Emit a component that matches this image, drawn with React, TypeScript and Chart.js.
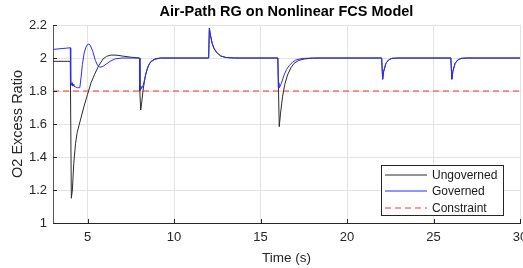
import React, { useEffect, useRef } from "react";
import { Chart, registerables } from "chart.js";

Chart.register(...registerables);

const chartTitle = "Air-Path RG on Nonlinear FCS Model";
const xTitle = "Time (s)";
const yTitle = "O2 Excess Ratio";

const xTicks = [5, 10, 15, 20, 25, 30];
const yTicks = [1, 1.2, 1.4, 1.6, 1.8, 2, 2.2];
const yTickLabels = ["1", "1.2", "1.4", "1.6", "1.8", "2", "2.2"];

const seriesNames = ["Ungoverned", "Governed", "Constraint"];

const ungovTime = [
  3, 4.0, 4.06, 4.12, 4.2, 4.3, 4.4, 4.6, 4.8, 5.0, 5.2, 5.4, 5.65, 5.9, 6.1, 6.35, 6.7, 7.0, 7.5,
  8.0, 8.02, 8.07, 8.12, 8.2, 8.35, 8.5, 8.65, 8.9, 9.2,
  12.0, 12.04, 12.1, 12.2, 12.3, 12.45, 12.7, 13.0, 13.5,
  16.0, 16.08, 16.15, 16.27, 16.4, 16.56, 16.75, 16.94, 17.2, 17.52, 18.0, 18.5,
  22.0, 22.06, 22.12, 22.25, 22.4, 22.6, 23.0,
  26.0, 26.06, 26.12, 26.25, 26.4, 26.6, 27.0, 30,
];
const ungovRatio = [
  1.98, 1.98, 1.15, 1.2, 1.36, 1.48, 1.55, 1.63, 1.71, 1.78, 1.85, 1.9, 1.955, 1.995, 2.01, 2.018, 2.017, 2.012, 2.005,
  2.0, 1.8, 1.685, 1.72, 1.8, 1.9, 1.95, 1.978, 1.995, 2.0,
  2.0, 2.18, 2.14, 2.09, 2.06, 2.035, 2.012, 2.003, 2.0,
  2.0, 1.584, 1.66, 1.765, 1.84, 1.897, 1.94, 1.968, 1.985, 1.994, 1.999, 2.0,
  2.0, 1.871, 1.92, 1.968, 1.988, 1.998, 2.0,
  2.0, 1.871, 1.92, 1.968, 1.988, 1.998, 2.0, 2.0,
];

const govTime = [
  3, 4.0, 4.01, 4.04, 4.07, 4.1, 4.13, 4.17, 4.2, 4.3, 4.4, 4.5, 4.55, 4.62, 4.7, 4.8, 4.9, 5.0, 5.07, 5.15, 5.3, 5.45, 5.58, 5.72, 5.9, 6.1, 6.3, 6.6, 7.0,
  8.0, 8.02, 8.05, 8.08, 8.12, 8.2, 8.3, 8.45, 8.6, 8.84, 9.2,
  12.0, 12.04, 12.1, 12.2, 12.3, 12.45, 12.7, 13.0, 13.5,
  16.0, 16.03, 16.06, 16.09, 16.13, 16.2, 16.36, 16.5, 16.65, 16.85, 17.04, 17.4, 18.0,
  22.0, 22.06, 22.12, 22.25, 22.4, 22.6, 23.0,
  26.0, 26.06, 26.12, 26.25, 26.4, 26.6, 27.0, 30,
];
const govRatio = [
  2.052, 2.062, 1.85, 1.86, 1.835, 1.85, 1.83, 1.842, 1.83, 1.825, 1.82, 1.82, 1.82, 1.88, 1.96, 2.03, 2.065, 2.082, 2.085, 2.078, 2.04, 1.985, 1.955, 1.944, 1.95, 1.965, 1.98, 1.995, 2.0,
  2.0, 1.84, 1.81, 1.83, 1.815, 1.83, 1.87, 1.935, 1.97, 1.99, 2.0,
  2.0, 2.18, 2.14, 2.09, 2.06, 2.035, 2.012, 2.003, 2.0,
  2.0, 1.82, 1.85, 1.82, 1.83, 1.845, 1.897, 1.93, 1.953, 1.975, 1.988, 1.997, 2.0,
  2.0, 1.871, 1.92, 1.968, 1.988, 1.998, 2.0,
  2.0, 1.871, 1.92, 1.968, 1.988, 1.998, 2.0, 2.0,
];

const constraintTime = [3, 30];
const constraintRatio = [1.8, 1.8];

const toPoints = (xs: number[], ys: number[]) => xs.map((x, i) => ({ x, y: ys[i] }));

const FONT = "'Liberation Sans', Arial, Helvetica, sans-serif";
const AXIS_COLOR = "#262626";

const seriesStyles = [
  { color: "#2a2a2a", width: 1, dash: [] as number[] },
  { color: "#2b2bff", width: 1, dash: [] as number[] },
  { color: "rgba(255,0,0,0.8)", width: 1, dash: [6, 4] },
];

const inwardTicks = {
  id: "inwardTicks",
  afterDatasetsDraw(chart: any) {
    const { ctx, chartArea, scales } = chart;
    ctx.save();
    ctx.strokeStyle = AXIS_COLOR;
    ctx.lineWidth = 1;
    ctx.beginPath();
    for (const v of xTicks) {
      const px = Math.round(scales.x.getPixelForValue(v)) + 0.5;
      ctx.moveTo(px, chartArea.bottom);
      ctx.lineTo(px, chartArea.bottom - 4);
    }
    for (const v of yTicks) {
      const py = Math.round(scales.y.getPixelForValue(v)) + 0.5;
      ctx.moveTo(chartArea.left, py);
      ctx.lineTo(chartArea.left + 4, py);
    }
    ctx.stroke();
    ctx.restore();
  },
};

const boxLegend = {
  id: "boxLegend",
  afterDraw(chart: any) {
    const { ctx, chartArea } = chart;
    const w = 122;
    const h = 50;
    const x0 = chartArea.right - 139;
    const y0 = chartArea.bottom - 58;
    ctx.save();
    ctx.fillStyle = "#ffffff";
    ctx.fillRect(x0, y0, w, h);
    ctx.strokeStyle = "#262626";
    ctx.lineWidth = 1;
    ctx.setLineDash([]);
    ctx.strokeRect(Math.round(x0) + 0.5, Math.round(y0) + 0.5, w, h);
    seriesNames.forEach((name, i) => {
      const st = seriesStyles[i];
      const yy = Math.round(y0 + 10 + i * 16.3);
      ctx.beginPath();
      ctx.strokeStyle = st.color;
      ctx.lineWidth = 1.2;
      ctx.setLineDash(st.dash);
      ctx.moveTo(x0 + 4, yy);
      ctx.lineTo(x0 + 46, yy);
      ctx.stroke();
      ctx.setLineDash([]);
      ctx.fillStyle = "#1a1a1a";
      ctx.font = `12px ${FONT}`;
      ctx.textAlign = "left";
      ctx.textBaseline = "middle";
      ctx.fillText(name, x0 + 51, yy + 0.5);
    });
    ctx.restore();
  },
};

export default function App() {
  const canvasRef = useRef<HTMLCanvasElement | null>(null);

  useEffect(() => {
    const canvas = canvasRef.current;
    if (!canvas) return;
    const chart = new Chart(canvas, {
      type: "line",
      data: {
        datasets: [
          {
            label: seriesNames[0],
            data: toPoints(ungovTime, ungovRatio),
            borderColor: seriesStyles[0].color,
            borderWidth: seriesStyles[0].width,
            pointRadius: 0,
            tension: 0,
            order: 3,
          },
          {
            label: seriesNames[1],
            data: toPoints(govTime, govRatio),
            borderColor: seriesStyles[1].color,
            borderWidth: seriesStyles[1].width,
            pointRadius: 0,
            tension: 0,
            order: 2,
          },
          {
            label: seriesNames[2],
            data: toPoints(constraintTime, constraintRatio),
            borderColor: seriesStyles[2].color,
            borderWidth: seriesStyles[2].width,
            borderDash: seriesStyles[2].dash,
            pointRadius: 0,
            tension: 0,
            order: 1,
          },
        ],
      },
      options: {
        responsive: false,
        animation: false,
        devicePixelRatio: 1,
        layout: { padding: { left: 0, right: 3, top: 0, bottom: 0 } },
        plugins: {
          legend: { display: false },
          tooltip: { enabled: false },
          title: {
            display: true,
            fullSize: false,
            text: chartTitle,
            color: "#000000",
            font: { family: FONT, size: 14.5, weight: "bold" },
            padding: { top: 3, bottom: 4.6 },
          },
        },
        scales: {
          x: {
            type: "linear",
            min: 3,
            max: 30,
            afterBuildTicks: (scale: any) => {
              scale.ticks = xTicks.map((v) => ({ value: v }));
            },
            afterFit: (scale: any) => {
              scale.height = 45;
              scale.paddingLeft = 0;
              scale.paddingRight = 0;
            },
            ticks: {
              color: "#262626",
              font: { family: FONT, size: 13 },
              padding: 7,
              maxRotation: 0,
              autoSkip: false,
              callback: (v: any) => String(v),
            },
            grid: { color: "#e3e3e3", drawTicks: false, lineWidth: 1 },
            border: { color: AXIS_COLOR, width: 1 },
            title: {
              display: true,
              text: xTitle,
              color: "#262626",
              font: { family: FONT, size: 13.5 },
              padding: { top: 0, bottom: 1.6 },
            },
          },
          y: {
            type: "linear",
            min: 1,
            max: 2.2,
            afterBuildTicks: (scale: any) => {
              scale.ticks = yTicks.map((v) => ({ value: v }));
            },
            afterFit: (scale: any) => {
              scale.width = 53;
              scale.paddingTop = 0;
              scale.paddingBottom = 0;
            },
            ticks: {
              color: "#262626",
              font: { family: FONT, size: 13 },
              padding: 6,
              autoSkip: false,
              callback: (v: any) => {
                const i = yTicks.findIndex((t) => Math.abs(t - v) < 1e-6);
                return i >= 0 ? yTickLabels[i] : "";
              },
            },
            grid: { color: "#e3e3e3", drawTicks: false, lineWidth: 1 },
            border: { color: "#5a5a5a", width: 1 },
            title: {
              display: true,
              text: yTitle,
              color: "#262626",
              font: { family: FONT, size: 14.5 },
              padding: { top: 8.8, bottom: 0 },
            },
          },
        },
      },
      plugins: [inwardTicks, boxLegend],
    });
    return () => chart.destroy();
  }, []);

  return (
    <div
      style={{
        position: "fixed",
        left: 0,
        top: 0,
        width: 523,
        height: 268,
        overflow: "hidden",
        background: "#ffffff",
      }}
    >
      <canvas ref={canvasRef} width={523} height={268} style={{ display: "block" }} />
    </div>
  );
}
